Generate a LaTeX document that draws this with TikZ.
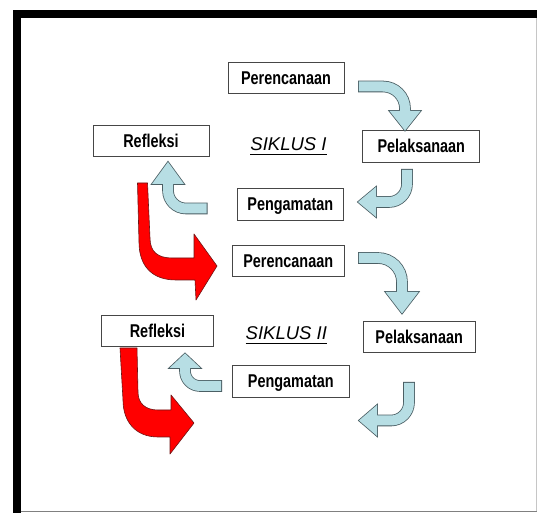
\documentclass[tikz,border=0pt]{standalone}
\usepackage{fontspec}
\setmainfont{Liberation Sans}
\newfontfamily\stagefont[FakeStretch=0.78]{Liberation Sans}

\newsavebox\ulinebox
\newcommand{\ulabel}[1]{\sbox\ulinebox{#1}\rlap{\rule[-4.4pt]{\wd\ulinebox}{1.2pt}}\usebox\ulinebox}

% #1 fill colour, #2 shaft path, #3 head path
\newcommand{\blockarrow}[3]{%
\path[draw=arrowEdge,line width=11.6pt] #2;
\path[draw=arrowEdge,fill=arrowEdge,line width=1.6pt,line join=miter] #3;
\path[draw=#1,line width=10pt,shorten <=0.8pt] #2;
\path[fill=#1] #3;
}

\begin{document}
\begin{tikzpicture}[x=1pt,y=1pt,
  stageBox/.style={draw=boxEdge,fill=white,line width=0.9pt,inner sep=0pt,outer sep=0pt,
    minimum height=31pt,text height=13.3pt,text depth=0pt,
    font=\stagefont\bfseries\fontsize{18.5}{20}\selectfont},
  cycleLabel/.style={anchor=base,inner sep=0pt,outer sep=0pt,
    font=\itshape\fontsize{18.5}{20}\selectfont}]
\definecolor{fillColor}{RGB}{255,255,255}
\definecolor{boxEdge}{RGB}{70,70,70}
\definecolor{arrowFill}{RGB}{183,222,228}
\definecolor{arrowEdge}{RGB}{75,95,100}
\definecolor{redFill}{RGB}{255,0,0}
\definecolor{redEdge}{RGB}{110,20,20}
\path[use as bounding box,fill=fillColor] (0,0) rectangle (537,513);

% frame
\path[fill=black] (13,503) rectangle (537,494.7);
\path[fill=black] (13,503) rectangle (20.5,0);
\path[draw=gray!45,line width=1pt] (536,494.7) -- (536,1.3);
\path[draw=gray,line width=1.2pt] (20.5,1.3) -- (537,1.3);

% siklus I
\node[stageBox,minimum width=116pt] (plan1) at (286.0,435.5) {Perencanaan};
\node[stageBox,minimum width=116pt] (reflect1) at (151.0,372.5) {Refleksi};
\node[cycleLabel] (cycle1) at (288.5,362.0) {\ulabel{SIKLUS I}};
\node[stageBox,minimum width=117pt,minimum height=32pt] (act1) at (421.3,366.8) {Pelaksanaan};
\node[stageBox,minimum width=106pt,minimum height=32pt] (observe1) at (290.3,308.8) {Pengamatan};

% siklus II
\node[stageBox,minimum width=112pt] (plan2) at (288.2,252.5) {Perencanaan};
\node[stageBox,minimum width=112pt] (reflect2) at (157.5,182.5) {Refleksi};
\node[cycleLabel] (cycle2) at (286.3,173.0) {\ulabel{SIKLUS II}};
\node[stageBox,minimum width=112pt] (act2) at (419.2,175.8) {Pelaksanaan};
\node[stageBox,minimum width=117pt,minimum height=32pt] (observe2) at (290.8,131.8) {Pengamatan};

% arrow ends: start, head base, tip
\coordinate (b1s) at (358,426.5); \coordinate (b1b) at (405,402);   \coordinate (b1t) at (405,382.5);
\coordinate (b2s) at (407,344);   \coordinate (b2b) at (376,311);   \coordinate (b2t) at (358,311);
\coordinate (b3s) at (207.5,304.5); \coordinate (b3b) at (168,329); \coordinate (b3t) at (168,351);
\coordinate (b4s) at (358,255);   \coordinate (b4b) at (402,221);   \coordinate (b4t) at (402,199.5);
\coordinate (b5s) at (409,131);   \coordinate (b5b) at (377,92.5);  \coordinate (b5t) at (359,92.5);
\coordinate (b6s) at (222,127);   \coordinate (b6b) at (185,145);   \coordinate (b6t) at (185,159.5);

\blockarrow{arrowFill}{(b1s) [rounded corners=22pt] -| (b1b)}
  {([xshift=-15.5pt]b1b) -- ([xshift=15.5pt]b1b) -- (b1t) -- cycle}
\blockarrow{arrowFill}{(b2s) [rounded corners=18pt] |- (b2b)}
  {([yshift=15pt]b2b) -- ([yshift=-15pt]b2b) -- (b2t) -- cycle}
\blockarrow{arrowFill}{(b3s) [rounded corners=18pt] -| (b3b)}
  {([xshift=-16pt]b3b) -- ([xshift=16pt]b3b) -- (b3t) -- cycle}
\blockarrow{arrowFill}{(b4s) [rounded corners=24pt] -| (b4b)}
  {([xshift=-16.5pt]b4b) -- ([xshift=16.5pt]b4b) -- (b4t) -- cycle}
\blockarrow{arrowFill}{(b5s) [rounded corners=18pt] |- (b5b)}
  {([yshift=15.5pt]b5b) -- ([yshift=-15.5pt]b5b) -- (b5t) -- cycle}
\blockarrow{arrowFill}{(b6s) [rounded corners=15pt] -| (b6b)}
  {([xshift=-15.5pt]b6b) -- ([xshift=15.5pt]b6b) -- (b6t) -- cycle}

% red arrows
\path[draw=redEdge,fill=redFill,line width=0.6pt,line join=round] (137.5,330) --
	(147.5,330) --
	(150,275) .. controls (150,261) and (158,255) .. (172,255) --
	(194,255) --
	(194,279) --
	(217,247) --
	(196,213) --
	(195,233) --
	(176,233) .. controls (152,233) and (139,247) .. (139,271) -- cycle;

\path[draw=redEdge,fill=redFill,line width=0.6pt,line join=round] (120,165) --
	(137,165) --
	(138,121) .. controls (138,109) and (146,103) .. (158,103) --
	(171,103) --
	(171,118) --
	(194,90) --
	(170,59) --
	(170,76) --
	(158,76) .. controls (136,76) and (123,91) .. (123,113) -- cycle;
\end{tikzpicture}
\end{document}
